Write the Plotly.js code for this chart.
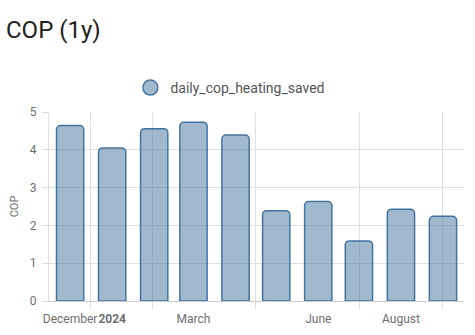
<!DOCTYPE html>
<html>
<head>
<meta charset="utf-8">
<script src="https://cdn.plot.ly/plotly-3.0.1.min.js"></script>
<style>html,body{margin:0;padding:0;background:#fff;}#chart{width:475px;height:335px;}</style>
</head>
<body>
<div id="chart"></div>
<script>
// Monthly buckets (Dec 2023 - Sep 2024)
const months = ["2023-12-01","2024-01-01","2024-02-01","2024-03-01","2024-04-01","2024-05-01","2024-06-01","2024-07-01","2024-08-01","2024-09-01"];
const copValues = [4.64, 4.05, 4.56, 4.73, 4.39, 2.39, 2.63, 1.59, 2.43, 2.24];
const seriesName = "daily_cop_heating_saved";
const labelDates = ["2023-12-01","2024-01-01","2024-03-01","2024-06-01","2024-08-01"];
const labelTexts = ["December","<b>2024</b>","March","June","August"];
const gridDates = ["2023-12-16 08:00","2024-01-30 13:00","2024-04-15 20:00","2024-07-01 06:00","2024-09-01"];

const xRange = ["2023-11-15 10:00","2024-09-16 12:00"];
const gridColor = "#e0e0e0";
const textColor = "#6e6e6e";
const lineBlue = "#44739e";
const fillBlue = "rgba(68,115,158,0.5)";

const traces = [
  {
    type: "bar", x: months, y: copValues, name: seriesName, showlegend: false,
    xaxis: "x", yaxis: "y",
    width: 20.1*86400000,
    marker: {color: fillBlue, line: {color: lineBlue, width: 1.5}, cornerradius: 4},
    hoverinfo: "skip"
  },
  {
    type: "scatter", mode: "markers", x: [null], y: [null], name: seriesName,
    xaxis: "x2", yaxis: "y",
    marker: {symbol: "circle", size: 15, color: fillBlue, line: {color: lineBlue, width: 1.5}},
    hoverinfo: "skip"
  }
];

const layout = {
  width: 475, height: 335,
  margin: {l: 49, r: 11, t: 112, b: 34},
  paper_bgcolor: "#fff", plot_bgcolor: "#fff",
  font: {family: "Roboto, sans-serif", color: textColor, size: 12},
  title: {
    text: "COP (1y)", font: {family: "Roboto, sans-serif", size: 24, color: "#212121"},
    xref: "container", yref: "container", x: 6/475, xanchor: "left", y: 1 - 30/335, yanchor: "middle"
  },
  showlegend: true,
  legend: {
    orientation: "h", xref: "container", yref: "container", x: 0.485, xanchor: "center",
    y: 1 - 88/335, yanchor: "middle",
    font: {size: 14, color: "#555"}, itemwidth: 30
  },
  xaxis: {
    type: "date", range: xRange, tickmode: "array", tickvals: labelDates, ticktext: labelTexts,
    tickangle: 0, showgrid: false, ticks: "", showline: true, linecolor: "#cccccc", linewidth: 1,
    tickfont: {size: 12, color: textColor}, ticklabelstandoff: 7, zeroline: false, fixedrange: true
  },
  xaxis2: {
    type: "date", range: xRange, overlaying: "x", anchor: "y", side: "bottom",
    tickmode: "array", tickvals: gridDates, showticklabels: false,
    showgrid: true, gridcolor: gridColor, gridwidth: 1,
    ticks: "outside", ticklen: 7, tickcolor: gridColor, showline: false, zeroline: false
  },
  yaxis: {
    range: [0, 5], tickmode: "linear", tick0: 0, dtick: 1,
    showgrid: true, gridcolor: gridColor, zeroline: false,
    showline: true, linecolor: gridColor, linewidth: 1,
    ticks: "outside", ticklen: 6, tickcolor: gridColor,
    tickfont: {size: 12, color: textColor}, ticklabelstandoff: 3,
    title: {text: "COP", font: {size: 11, color: textColor}, standoff: 8}
  },
  barcornerradius: 4
};

Plotly.newPlot("chart", traces, layout, {displayModeBar: false, staticPlot: true});
</script>
</body>
</html>
